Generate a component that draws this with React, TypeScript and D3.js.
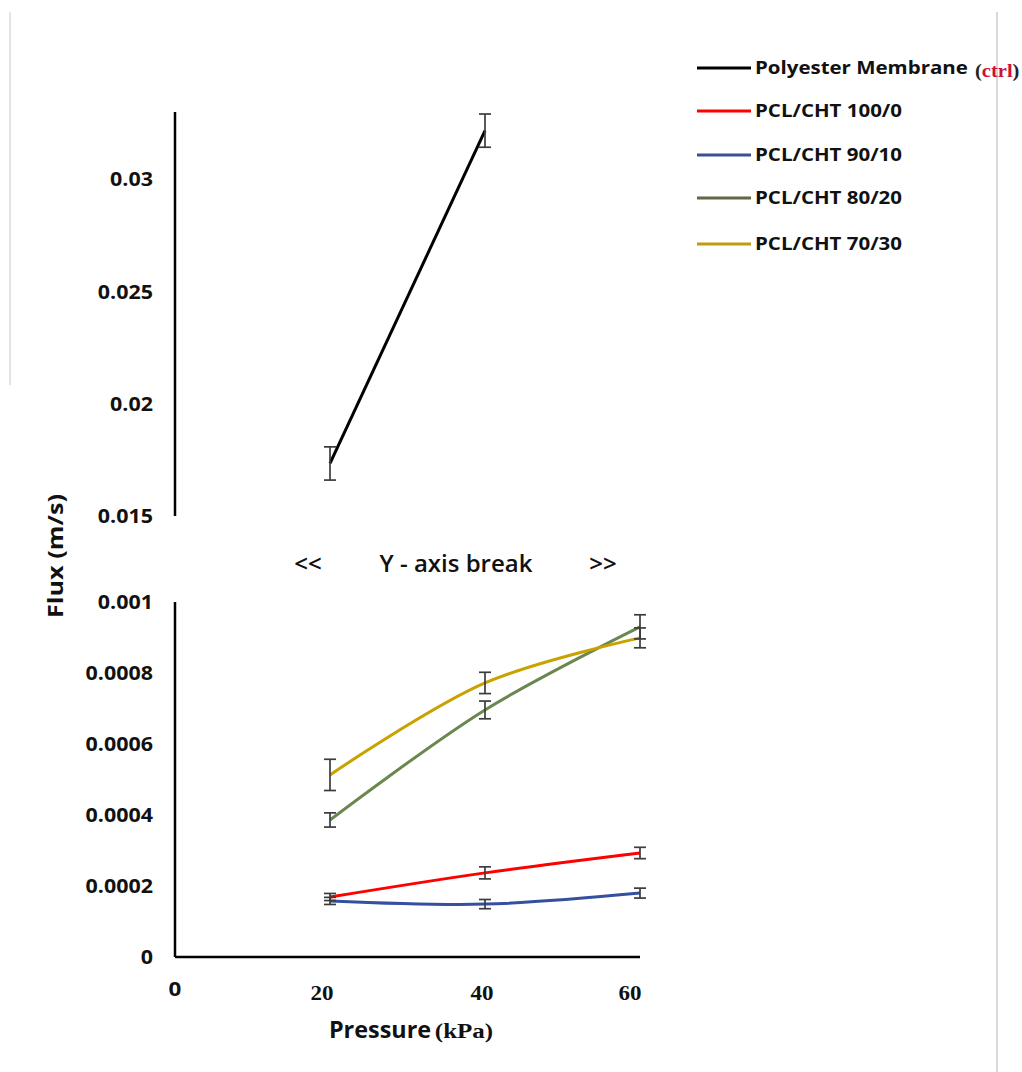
import React from "react";
import * as d3 from "d3";

const pressures = [20, 40, 60];
const ctrlPressures = [20, 40];
const ctrlFlux = [0.01734, 0.03217];
const ctrlErr = [0.00074, 0.00074];
const pcl100 = [0.000169, 0.000237, 0.000293];
const pcl100Err = [0.00001, 0.000017, 0.000016];
const pcl90 = [0.000158, 0.000149, 0.00018];
const pcl90Err = [0.00001, 0.000013, 0.000014];
const pcl80 = [0.000386, 0.000696, 0.00093];
const pcl80Err = [0.00002, 0.000025, 0.000034];
const pcl70 = [0.000513, 0.000772, 0.000899];
const pcl70Err = [0.000044, 0.00003, 0.000028];

const upperTicks = [0.015, 0.02, 0.025, 0.03];
const lowerTicks = [0, 0.0002, 0.0004, 0.0006, 0.0008, 0.001];
const xTicks = [0, 20, 40, 60];

const legendNames = ["Polyester Membrane", "PCL/CHT 100/0", "PCL/CHT 90/10", "PCL/CHT 80/20", "PCL/CHT 70/30"];
const colors = ["#000000", "#ff0000", "#34509e", "#6b8750", "#c9a200"];
const legendColors = ["#000000", "#ff0000", "#3a4f96", "#5f6a45", "#c19a10"];

const SANS = "'Open Sans', 'Noto Sans', sans-serif";
const SERIF = "'Liberation Serif', 'DejaVu Serif', serif";

export default function App() {
  const x = d3.scaleLinear().domain([0, 60]).range([175, 640]);
  const yU = d3.scaleLinear().domain([0.015, 0.033]).range([516, 112]);
  const yL = d3.scaleLinear().domain([0, 0.001]).range([957, 602]);

  const straight = d3.line<[number, number]>().x((d) => x(d[0])).y((d) => yU(d[1]));
  const smooth = d3
    .line<[number, number]>()
    .x((d) => x(d[0]))
    .y((d) => yL(d[1]))
    .curve(d3.curveCatmullRom.alpha(0.5));

  const lowerSeries = [
    { vals: pcl100, err: pcl100Err, color: colors[1] },
    { vals: pcl90, err: pcl90Err, color: colors[2] },
    { vals: pcl80, err: pcl80Err, color: colors[3] },
    { vals: pcl70, err: pcl70Err, color: colors[4] },
  ];

  const errBar = (cx: number, y1: number, y2: number, key: string) => (
    <g key={key} stroke="#3c3c3c" strokeWidth={1.7}>
      <line x1={cx} x2={cx} y1={y1} y2={y2} />
      <line x1={cx - 6} x2={cx + 6} y1={y1} y2={y1} />
      <line x1={cx - 6} x2={cx + 6} y1={y2} y2={y2} />
    </g>
  );

  const legendY = [68, 111, 155, 198, 244];
  const xLabelShift: Record<number, number> = { 0: 0, 20: -8, 40: -3, 60: -10 };

  return (
    <svg
      width={1022}
      height={1072}
      style={{ position: "absolute", left: 0, top: 0, background: "#fff" }}
    >
      <rect x={0} y={0} width={1022} height={1072} fill="#fff" />
      {/* page borders */}
      <line x1={10} x2={10} y1={12} y2={385} stroke="#c8c8c8" strokeWidth={1} />
      <line x1={997} x2={997} y1={12} y2={1072} stroke="#c0c0c0" strokeWidth={1.2} />

      {/* upper axis */}
      <line x1={175} x2={175} y1={yU(0.033)} y2={yU(0.015)} stroke="#000" strokeWidth={2.5} />
      {upperTicks.map((t) => (
        <text
          key={"u" + t}
          transform={`translate(153,${yU(t)}) scale(1.1,1)`}
          dy="0.36em"
          textAnchor="end"
          fontFamily={SANS}
          fontWeight={700}
          fontSize={19.5}
          fill="#111"
        >
          {String(t)}
        </text>
      ))}

      {/* lower axes */}
      <line x1={175} x2={175} y1={yL(0.001)} y2={yL(0)} stroke="#000" strokeWidth={2.5} />
      <line x1={175} x2={x(60)} y1={yL(0)} y2={yL(0)} stroke="#000" strokeWidth={2.5} />
      {lowerTicks.map((t) => (
        <text
          key={"l" + t}
          transform={`translate(153,${yL(t)}) scale(1.1,1)`}
          dy="0.36em"
          textAnchor="end"
          fontFamily={SANS}
          fontWeight={700}
          fontSize={19.5}
          fill="#111"
        >
          {String(t)}
        </text>
      ))}
      {xTicks.map((t) => (
        <text
          key={"x" + t}
          transform={`translate(${x(t) + xLabelShift[t]},${t === 0 ? 996 : 1000}) scale(1.15,1)`}
          textAnchor="middle"
          fontFamily={t === 0 ? SANS : SERIF}
          fontWeight={700}
          fontSize={t === 0 ? 19.5 : 20}
          fill="#111"
        >
          {String(t)}
        </text>
      ))}

      {/* axis break label */}
      <g fontFamily={SANS} fontWeight={600} fontSize={24} fill="#111" textAnchor="middle">
        <text x={308} y={572}>{"<<"}</text>
        <text x={456} y={572}>Y - axis break</text>
        <text x={603} y={572}>{">>"}</text>
      </g>

      {/* y-axis title */}
      <text
        transform="translate(63,556) rotate(-90) scale(1.2,1)"
        textAnchor="middle"
        fontFamily={SANS}
        fontWeight={700}
        fontSize={21}
        fill="#111"
      >
        Flux (m/s)
      </text>

      {/* x-axis title */}
      <text
        transform="translate(380,1038) scale(1.04,1)"
        textAnchor="middle"
        fontFamily={SANS}
        fontWeight={700}
        fontSize={22.5}
        fill="#111"
      >
        Pressure
      </text>
      <text
        transform="translate(464,1038) scale(1.25,1)"
        textAnchor="middle"
        fontFamily={SERIF}
        fontWeight={700}
        fontSize={20}
        fill="#111"
      >
        (kPa)
      </text>

      {/* control series */}
      <path
        d={straight(ctrlPressures.map((p, i) => [p, ctrlFlux[i]] as [number, number])) || ""}
        fill="none"
        stroke={colors[0]}
        strokeWidth={3}
      />
      {ctrlPressures.map((p, i) =>
        errBar(x(p), yU(ctrlFlux[i] + ctrlErr[i]), yU(ctrlFlux[i] - ctrlErr[i]), "ce" + i)
      )}

      {/* lower series */}
      {lowerSeries.map((s, si) => (
        <path
          key={"p" + si}
          d={smooth(pressures.map((p, i) => [p, s.vals[i]] as [number, number])) || ""}
          fill="none"
          stroke={s.color}
          strokeWidth={3}
        />
      ))}
      {lowerSeries.map((s, si) =>
        pressures.map((p, i) =>
          errBar(x(p), yL(s.vals[i] + s.err[i]), yL(s.vals[i] - s.err[i]), "e" + si + "-" + i)
        )
      )}

      {/* legend */}
      {legendNames.map((n, i) => (
        <g key={"lg" + i}>
          <line x1={697} x2={751} y1={legendY[i]} y2={legendY[i]} stroke={legendColors[i]} strokeWidth={3} />
          <text
            transform={`translate(755,${legendY[i]}) scale(1.17,1)`}
            dy="0.36em"
            fontFamily={SANS}
            fontWeight={700}
            fontSize={17.5}
            fill="#111"
          >
            {n}
          </text>
        </g>
      ))}
      <text
        transform={`translate(975,${legendY[0] + 9}) scale(1.08,1)`}
        fontFamily={SERIF}
        fontWeight={700}
        fontSize={19}
        fill="#222"
      >
        (<tspan fill="#c8143c">ctrl</tspan>)
      </text>
    </svg>
  );
}
